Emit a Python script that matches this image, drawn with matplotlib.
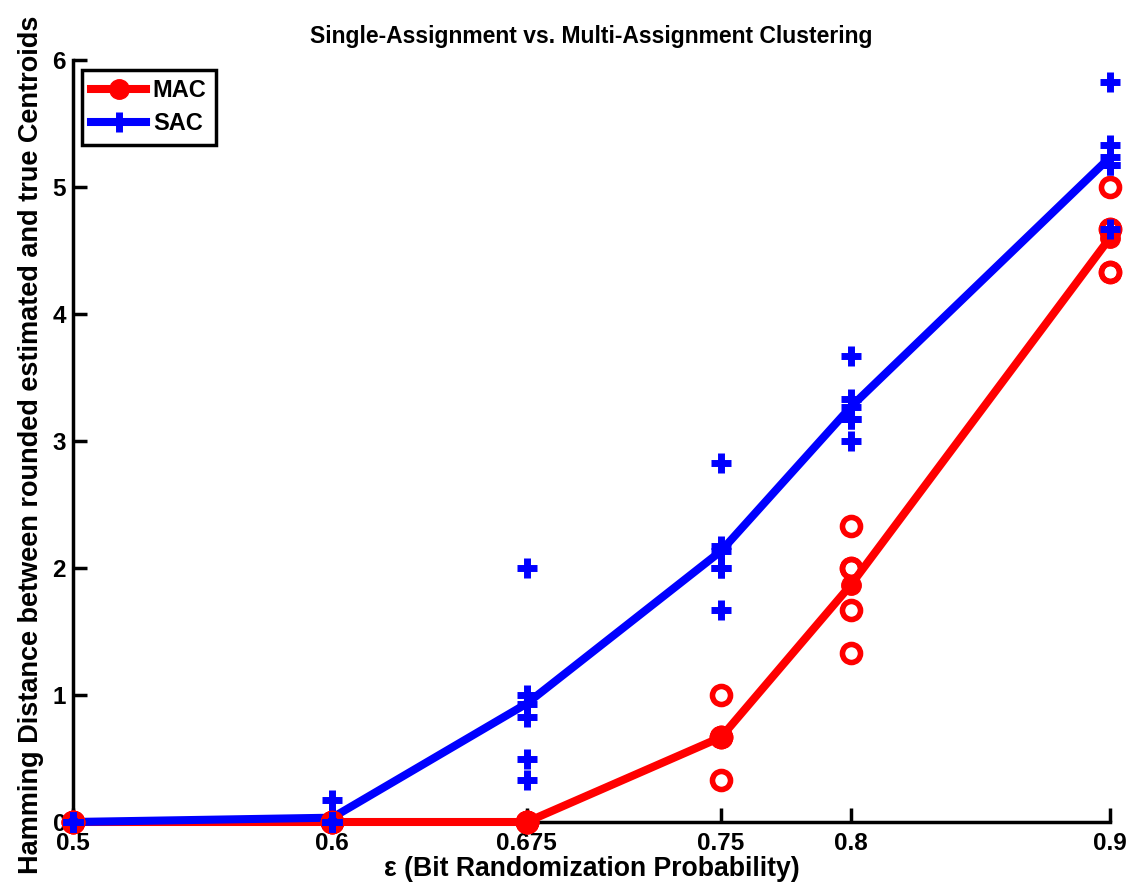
import matplotlib
matplotlib.use("Agg")
import matplotlib.pyplot as plt

plt.rcParams['font.family'] = ['Liberation Sans', 'DejaVu Sans']
plt.rcParams['font.weight'] = 'bold'

# data
eps = [0.5, 0.6, 0.675, 0.75, 0.8, 0.9]
tick_labels = ['0.5', '0.6', '0.675', '0.75', '0.8', '0.9']

mac_trials = [
    [0, 0, 0, 0, 0],
    [0, 0, 0, 0, 0],
    [0, 0, 0, 0, 0],
    [1.0, 0.67, 0.67, 0.67, 0.33],
    [2.33, 2.0, 2.0, 1.67, 1.33],
    [5.0, 4.67, 4.67, 4.33, 4.33],
]
sac_trials = [
    [0, 0, 0, 0, 0],
    [0.17, 0, 0, 0, 0],
    [2.0, 1.0, 0.83, 0.5, 0.33],
    [2.83, 2.17, 2.0, 2.0, 1.67],
    [3.67, 3.33, 3.17, 3.17, 3.0],
    [5.83, 5.33, 5.17, 5.17, 4.67],
]
mac_mean = [sum(t) / len(t) for t in mac_trials]
sac_mean = [sum(t) / len(t) for t in sac_trials]

fig = plt.figure(figsize=(11.37, 8.88), dpi=100)
ax = fig.add_axes([73 / 1137, 66 / 888, 1037 / 1137, 762 / 888])

red = '#ff0000'
blue = '#0000ff'

ax.plot(eps, mac_mean, color=red, lw=5.8, marker='o', ms=14, mfc=red, mec=red,
        label='MAC', clip_on=False, zorder=3)
ax.plot(eps, sac_mean, color=blue, lw=5.8, marker='+', ms=15, mew=5,
        label='SAC', clip_on=False, zorder=4)

for x, vals in zip(eps, mac_trials):
    ax.plot([x] * len(vals), vals, linestyle='none', marker='o', ms=13,
            mfc='none', mec=red, mew=4, clip_on=False, zorder=5)
for x, vals in zip(eps, sac_trials):
    ax.plot([x] * len(vals), vals, linestyle='none', marker='+', ms=15,
            color=blue, mew=5, clip_on=False, zorder=6)

ax.set_xlim(0.5, 0.9)
ax.set_ylim(0, 6)
ax.set_xticks(eps)
ax.set_xticklabels(tick_labels)
ax.set_yticks([0, 1, 2, 3, 4, 5, 6])

for s in ['top', 'right']:
    ax.spines[s].set_visible(False)
for s in ['left', 'bottom']:
    ax.spines[s].set_linewidth(2.5)
    ax.spines[s].set_color('black')

ax.tick_params(direction='in', length=10, width=2.5, labelsize=17.5)
ax.tick_params(axis='x', pad=7)
ax.tick_params(axis='y', pad=5)
for lab in ax.get_xticklabels() + ax.get_yticklabels():
    lab.set_fontweight('bold')

ax.set_title('Single-Assignment vs. Multi-Assignment Clustering',
             fontsize=16.5, fontweight='bold', pad=12)
ax.set_xlabel('ε (Bit Randomization Probability)', fontsize=19.2,
              fontweight='bold', labelpad=1)
ax.set_ylabel('Hamming Distance between rounded estimated and true Centroids',
              fontsize=19.5, fontweight='bold')
ax.yaxis.set_label_coords(-29 / 1037, 0.495)

leg = ax.legend(loc='upper left', bbox_to_anchor=(9 / 1037, (822 - 70) / 762),
                borderaxespad=0, frameon=True, fancybox=False,
                handlelength=2.3, borderpad=0.4, labelspacing=0.42,
                handletextpad=0.3, prop={'weight': 'bold', 'size': 17})
leg.get_frame().set_edgecolor('black')
leg.get_frame().set_linewidth(2.5)
leg.get_frame().set_alpha(1)

fig.savefig('out.png', dpi=100)
